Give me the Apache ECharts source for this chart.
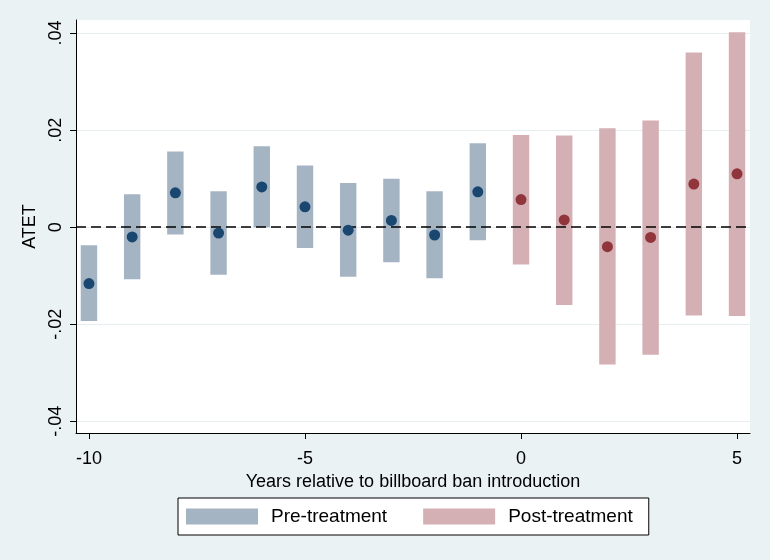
<!DOCTYPE html>
<html>
<head>
<meta charset="utf-8">
<script src="https://cdn.jsdelivr.net/npm/echarts@6/dist/echarts.min.js"></script>
<style>
html,body{margin:0;padding:0;background:#eaf2f3;}
#chart{width:770px;height:560px;}
</style>
</head>
<body>
<div id="chart"></div>
<script>
// Years relative to billboard ban introduction
var preYears  = [-10, -9, -8, -7, -6, -5, -4, -3, -2, -1];
var preEst    = [-0.0116, -0.0020, 0.0071, -0.0012, 0.0083, 0.0042, -0.0006, 0.0014, -0.0016, 0.0073];
var preLow    = [-0.0193, -0.0107, -0.0015, -0.0098, 0.0000, -0.0043, -0.0102, -0.0072, -0.0105, -0.0027];
var preHigh   = [-0.0037, 0.0068, 0.0156, 0.0074, 0.0167, 0.0127, 0.0091, 0.0100, 0.0074, 0.0173];

var postYears = [0, 1, 2, 3, 4, 5];
var postEst   = [0.0057, 0.0015, -0.0040, -0.0021, 0.0089, 0.0110];
var postLow   = [-0.0077, -0.0160, -0.0283, -0.0263, -0.0182, -0.0183];
var postHigh  = [0.0190, 0.0189, 0.0204, 0.0220, 0.0360, 0.0402];

var xTicks = [-10, -5, 0, 5];
var yTicks = [-0.04, -0.02, 0, 0.02, 0.04];

function fmtY(v){
  if (Math.abs(v) < 1e-9) return '0';
  var s = (Math.round(v*100)/100).toFixed(2);
  return s.replace('0.', '.');
}

function rangeData(years, low, high){
  return years.map(function(y,i){ return [y, low[i], high[i]]; });
}
function pointData(years, est){
  return years.map(function(y,i){ return [y, est[i]]; });
}

function renderBar(params, api){
  var x = api.value(0);
  var lo = api.coord([x, api.value(1)]);
  var hi = api.coord([x, api.value(2)]);
  var w = api.size([0.38, 0])[0];
  return {
    type: 'rect',
    shape: { x: lo[0] - w/2, y: hi[1], width: w, height: lo[1] - hi[1] },
    style: api.style()
  };
}

var chart = echarts.init(document.getElementById('chart'), null, {renderer:'canvas'});
var font = 'Liberation Sans, Arial, sans-serif';
chart.setOption({
  backgroundColor: '#eaf2f3',
  animation: false,
  textStyle: { fontFamily: font },
  grid: { left: 76, right: 20, top: 20, bottom: 127, show: true, backgroundColor: '#ffffff', borderWidth: 0 },
  xAxis: {
    type: 'value', min: -10.3, max: 5.3, splitNumber: 3,
    name: 'Years relative to billboard ban introduction',
    nameLocation: 'middle', nameGap: 33,
    nameTextStyle: { color: '#000', fontSize: 18, fontFamily: font },
    axisLine: { show: true, onZero: false, lineStyle: { color: '#000', width: 1 } },
    axisTick: { show: true, length: 6, lineStyle: { color: '#000' }, customValues: xTicks },
    axisLabel: { color: '#000', fontSize: 18, margin: 17, customValues: xTicks, fontFamily: font },
    splitLine: { show: false }
  },
  yAxis: {
    type: 'value', min: -0.0424, max: 0.0427, splitNumber: 4,
    name: 'ATET', nameLocation: 'middle', nameGap: 31, nameRotate: 90,
    nameTextStyle: { color: '#000', fontSize: 18, fontFamily: font },
    axisLine: { show: true, onZero: false, lineStyle: { color: '#000', width: 1 } },
    axisTick: { show: true, length: 6, lineStyle: { color: '#000' }, customValues: yTicks },
    axisLabel: { color: '#000', fontSize: 18, rotate: 90, margin: 11, customValues: yTicks, formatter: fmtY, fontFamily: font },
    splitLine: { show: true, lineStyle: { color: '#e6eef0', width: 1 } }
  },
  legend: {
    data: ['Pre-treatment', 'Post-treatment'],
    left: 178, top: 498,
    orient: 'horizontal',
    backgroundColor: '#ffffff',
    borderColor: '#000', borderWidth: 1, borderRadius: 0,
    padding: [9, 16, 9, 8],
    itemWidth: 72, itemHeight: 16, itemGap: 36,
    icon: 'rect',
    textStyle: { color: '#000', fontSize: 19, padding: [0,0,0,8], fontFamily: font },
    selectedMode: false
  },
  series: [
    {
      name: 'Pre-treatment', type: 'custom', renderItem: renderBar,
      itemStyle: { color: '#a5b4c3' },
      encode: { x: 0, y: [1, 2] },
      data: rangeData(preYears, preLow, preHigh),
      z: 2
    },
    {
      name: 'Post-treatment', type: 'custom', renderItem: renderBar,
      itemStyle: { color: '#d4afb3' },
      encode: { x: 0, y: [1, 2] },
      data: rangeData(postYears, postLow, postHigh),
      z: 2,
      markLine: {
        silent: true, symbol: 'none', label: { show: false },
        lineStyle: { color: '#000', type: [10, 5], width: 1.5 },
        data: [{ yAxis: 0 }],
        z: 3
      }
    },
    {
      name: 'preEst', type: 'scatter', symbol: 'circle', symbolSize: 11,
      itemStyle: { color: '#1a476f', opacity: 1 },
      data: pointData(preYears, preEst), z: 5
    },
    {
      name: 'postEst', type: 'scatter', symbol: 'circle', symbolSize: 11,
      itemStyle: { color: '#90353b', opacity: 1 },
      data: pointData(postYears, postEst), z: 5
    }
  ]
});
</script>
</body>
</html>
